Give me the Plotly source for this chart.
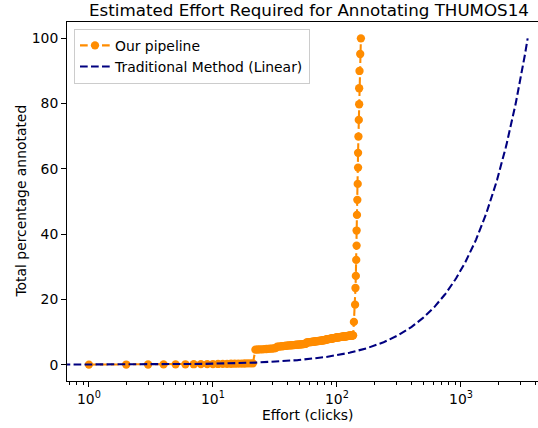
import numpy as np
import plotly.graph_objects as go

# ---- Data -------------------------------------------------------------
# Our pipeline: clicks (effort) and cumulative percentage annotated
pipeline_effort_early = list(range(1, 22))
pipeline_pct_early = [0.02, 0.04, 0.06, 0.08, 0.10, 0.12, 0.14, 0.16, 0.18, 0.20,
                      0.22, 0.24, 0.26, 0.28, 0.30, 0.32, 0.34, 0.36, 0.38, 0.40, 0.42]

pipeline_effort_mid = list(range(22, 136))
pipeline_pct_mid = [
    # 22-32
    4.60, 4.65, 4.70, 4.72, 4.76, 4.80, 4.85, 4.90, 4.95, 5.00, 5.10,
    # 33-40
    5.50, 5.55, 5.60, 5.65, 5.70, 5.75, 5.80, 5.85,
    # 41-56
    5.90, 5.92, 5.95, 6.00, 6.02, 6.05, 6.10, 6.12, 6.15, 6.20, 6.22, 6.25,
    6.30, 6.32, 6.35, 6.40,
    # 57-80
    6.80, 6.82, 6.85, 6.90, 6.92, 6.95, 7.00, 7.02, 7.05, 7.10, 7.12, 7.15,
    7.20, 7.22, 7.25, 7.30, 7.32, 7.35, 7.40, 7.42, 7.45, 7.50, 7.52, 7.55,
    # 81-99
    7.70, 7.72, 7.75, 7.80, 7.82, 7.85, 7.90, 7.92, 7.95, 8.00, 8.02, 8.05,
    8.10, 8.12, 8.15, 8.20, 8.22, 8.25, 8.30,
    # 100-135
    8.35, 8.37, 8.39, 8.41, 8.43, 8.45, 8.47, 8.49, 8.51, 8.53, 8.55, 8.57,
    8.59, 8.61, 8.63, 8.65, 8.67, 8.69, 8.71, 8.73, 8.75, 8.77, 8.79, 8.81,
    8.83, 8.85, 8.87, 8.89, 8.90, 8.91, 8.92, 8.93, 8.94, 8.95, 8.97, 9.00,
]

pipeline_effort_late = [137, 140, 141, 142, 143, 144, 144, 145, 146, 147,
                        148, 148, 149, 150, 151, 151, 152, 154, 156]
pipeline_pct_late = [13.1, 18.4, 23.5, 27.2, 32.1, 36.5, 41.1, 45.9, 50.5, 55.4,
                     60.4, 64.9, 69.9, 75.0, 79.8, 84.7, 90.0, 95.2, 100.0]

pipeline_effort = pipeline_effort_early + pipeline_effort_mid + pipeline_effort_late
pipeline_pct = pipeline_pct_early + pipeline_pct_mid + pipeline_pct_late

# Traditional method: linear, total clicks needed for 100 %
traditional_total_clicks = 3450
traditional_effort = np.geomspace(0.5, traditional_total_clicks, 500)
traditional_pct = traditional_effort / traditional_total_clicks * 100

x_tick_vals = [1, 10, 100, 1000]
x_tick_text = ["10<sup>0</sup>", "10<sup>1</sup>", "10<sup>2</sup>", "10<sup>3</sup>"]
y_tick_vals = [0, 20, 40, 60, 80, 100]

minor_vals = [0.7, 0.8, 0.9] + [m * 10 ** e for e in range(0, 4) for m in range(2, 10)]

# ---- Figure -----------------------------------------------------------
FONT = "DejaVu Sans"
W, H = 538, 428
L, R, T, B = 67, 0, 22, 47

fig = go.Figure()
fig.add_trace(go.Scatter(
    x=pipeline_effort, y=pipeline_pct, mode="lines+markers",
    name="Our pipeline",
    line=dict(color="#FF8C00", width=2.08, dash="7.7px,3.3px"),
    marker=dict(color="#FF8C00", size=8.3),
))
fig.add_trace(go.Scatter(
    x=traditional_effort, y=traditional_pct, mode="lines",
    name="Traditional Method (Linear)",
    line=dict(color="#000080", width=2.08, dash="7.7px,3.3px"),
))

fig.update_layout(
    width=W, height=H,
    margin=dict(l=L, r=R, t=T, b=B),
    paper_bgcolor="white", plot_bgcolor="white",
    font=dict(family=FONT, size=13.9, color="black"),
    title=dict(text="Estimated Effort Required for Annotating THUMOS14",
               x=309 / W, xref="container", xanchor="center",
               y=1 - 10.5 / H, yref="container", yanchor="middle",
               font=dict(family=FONT, size=16.7, color="black")),
    showlegend=True,
    legend=dict(x=(74 - L) / (W - L - R), y=0.981, xanchor="left", yanchor="top",
                bgcolor="rgba(255,255,255,0.8)", bordercolor="#cccccc", borderwidth=1,
                font=dict(family=FONT, size=13.9, color="black"),
                tracegroupgap=0, itemwidth=30),
)

fig.update_xaxes(
    type="log", range=[-0.1766, 3.621],
    tickvals=x_tick_vals, ticktext=x_tick_text,
    ticks="outside", ticklen=4.9, tickwidth=1.1, tickcolor="black",
    minor=dict(tickvals=minor_vals, ticks="outside", ticklen=2.8,
               tickwidth=0.8, tickcolor="black", showgrid=False),
    showline=True, linecolor="black", linewidth=1.1, mirror=True,
    showgrid=False, zeroline=False,
    tickfont=dict(family=FONT, size=13.9, color="black"),
)
fig.update_yaxes(
    range=[-5, 105], tickvals=y_tick_vals,
    ticks="outside", ticklen=4.9, tickwidth=1.1, tickcolor="black",
    showline=True, linecolor="black", linewidth=1.1, mirror=False,
    showgrid=False, zeroline=False,
    tickfont=dict(family=FONT, size=13.9, color="black"),
)

plot_w = W - L - R
plot_h = H - T - B
fig.add_annotation(text="Effort (clicks)", xref="paper", yref="paper",
                   x=(308 - L) / plot_w, y=-(415 - (H - B)) / plot_h,
                   xanchor="center", yanchor="middle", showarrow=False,
                   font=dict(family=FONT, size=13.9, color="black"))
fig.add_annotation(text="Total percentage annotated", xref="paper", yref="paper",
                   x=(20 - L) / plot_w, y=0.5, textangle=-90,
                   xanchor="center", yanchor="middle", showarrow=False,
                   font=dict(family=FONT, size=13.9, color="black"))

fig.write_html(
    "out.html",
    config={"displayModeBar": False},
    post_script="document.body.style.margin='0';document.body.style.overflow='hidden';",
)
